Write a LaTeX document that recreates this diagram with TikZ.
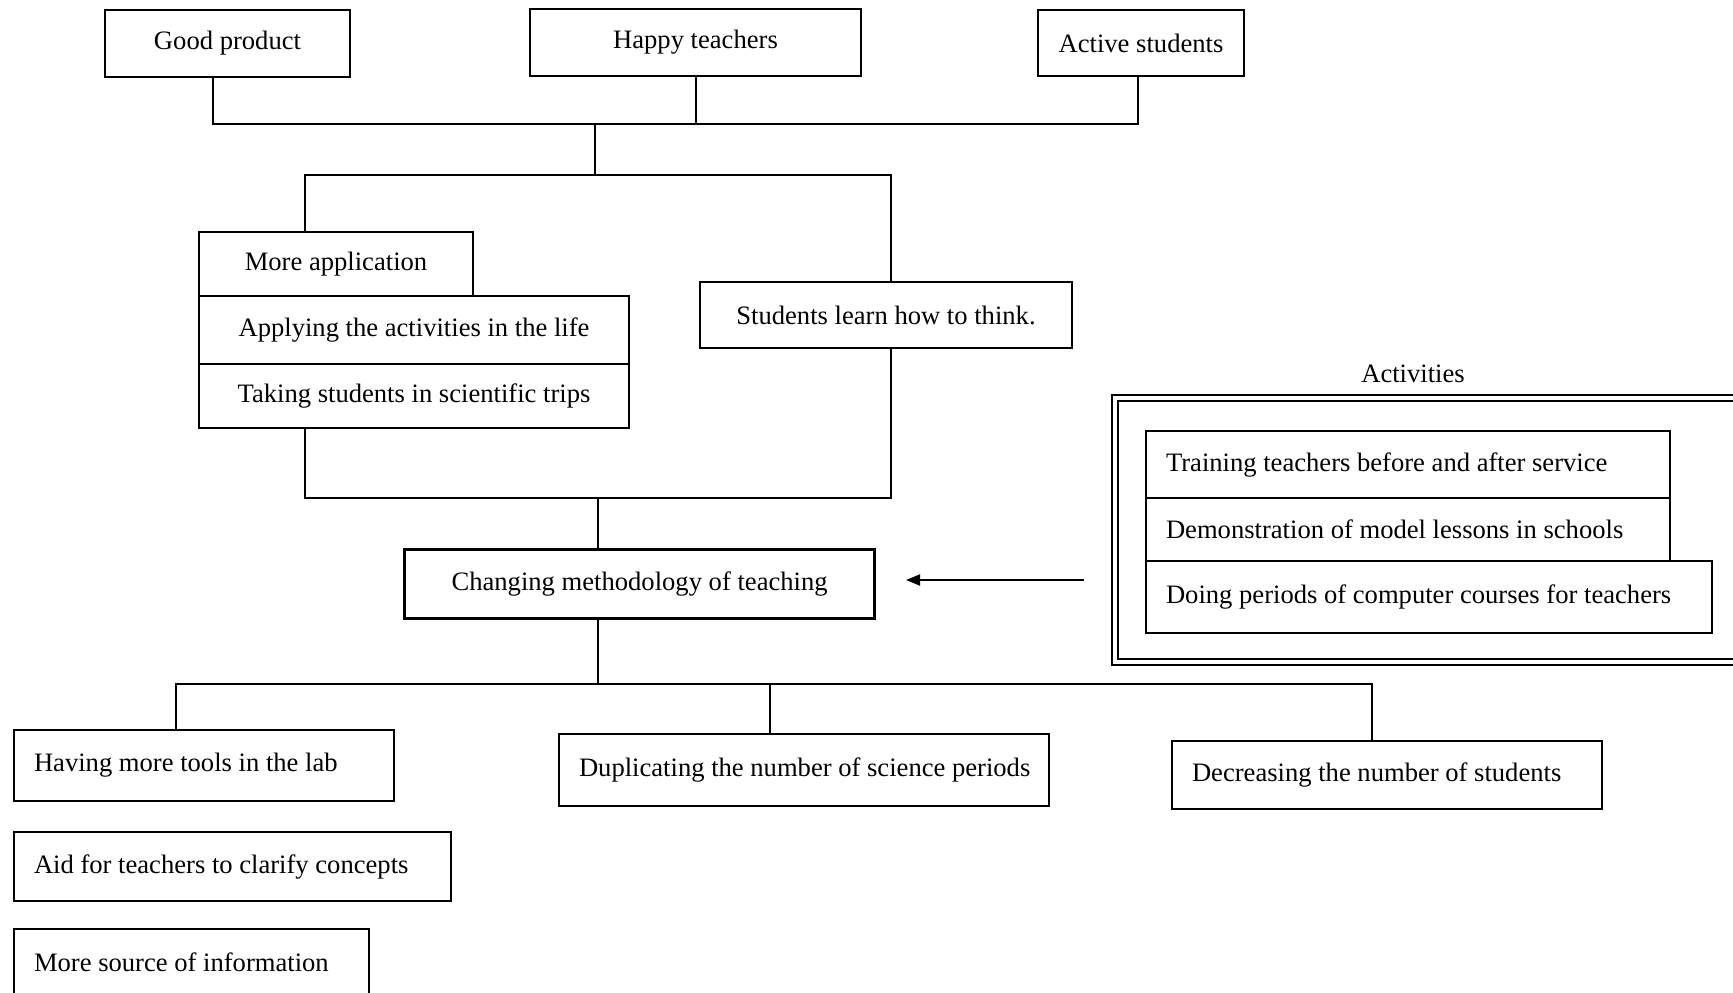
\documentclass[tikz,border=0pt]{standalone}
\usepackage{fontspec}
\setmainfont{Liberation Serif}
\usetikzlibrary{arrows.meta}
\begin{document}
\begin{tikzpicture}[x=0.5pt,y=-0.5pt,
  base/.style={draw, line width=1pt, fill=white, inner sep=0pt, anchor=north west,
    font=\fontsize{13.3}{16}\selectfont},
  cbox/.style={base, align=center},
  lbox/.style={base, inner xsep=10pt, text width=#1, align=flush left},
  frame/.style={draw, double, double distance=2.2pt, line width=0.9pt, anchor=north west, inner sep=0pt},
  conn/.style={line width=1pt},
  lbl/.style={font=\fontsize{13.3}{16}\selectfont}]
\useasboundingbox (0,0) rectangle (1733,992);
\clip (0,0) rectangle (1733,992);
\fill[white] (0,0) rectangle (1733,992);
% top row
\node[cbox, minimum width=122.5pt, minimum height=33.5pt] (good) at (104,9) {Good product};
\node[cbox, minimum width=165.5pt, minimum height=33.5pt] (happy) at (529,8) {Happy teachers};
\node[cbox, minimum width=103pt, minimum height=33pt] (active) at (1037,9) {Active students};
% middle
\node[cbox, minimum width=137pt, minimum height=32pt] (moreapp) at (198,231) {More application};
\node[cbox, minimum width=215pt, minimum height=34pt] (applying) at (198,295) {Applying the activities in the life};
\node[cbox, minimum width=215pt, minimum height=32pt] (taking) at (198,363) {Taking students in scientific trips};
\node[cbox, minimum width=186pt, minimum height=33pt] (think) at (699,281) {Students learn how to think.};
\node[cbox, line width=1.6pt, minimum width=235pt, minimum height=34.5pt] (change) at (403,548) {Changing methodology of teaching};
% activities
\node[lbl] (actlabel) at (1413,374) {Activities};
\node[frame, minimum width=330pt, minimum height=132pt] (actframe) at (1114,397) {};
\node[lbox=242pt, minimum height=33.5pt] (training) at (1145,430) {Training teachers before and after service};
\node[lbox=242pt, minimum height=31.5pt] (demo) at (1145,497) {Demonstration of model lessons in schools};
\node[lbox=263pt, minimum height=36pt] (doing) at (1145,560) {Doing periods of computer courses for teachers};
% bottom
\node[lbox=170pt, minimum height=35.5pt] (having) at (13,729) {Having more tools in the lab};
\node[lbox=225pt, minimum height=36pt] (dup) at (558,733) {\mbox{Duplicating the number of science periods}};
\node[lbox=195pt, minimum height=34pt] (dec) at (1171,740) {Decreasing the number of students};
\node[lbox=198.5pt, minimum height=34.5pt] (aid) at (13,831) {Aid for teachers to clarify concepts};
\node[lbox=157.5pt, minimum height=33pt] (source) at (13,928) {More source of information};
% connectors
\coordinate (b1) at (213,124);
\coordinate (b2) at (1138,124);
\coordinate (j1) at (595,124);
\coordinate (lt) at (305,175);
\coordinate (rt) at (891,175);
\coordinate (lb) at (305,498);
\coordinate (rb) at (891,498);
\coordinate (j2) at (598,498);
\coordinate (j3) at (598,684);
\coordinate (c1) at (176,684);
\coordinate (c2) at (1372,684);
\coordinate (c3) at (770,684);
\coordinate (arrS) at (1084,580);
\coordinate (arrE) at (906,580);
\draw[conn] (good.south -| b1) -- (b1) -- (b2) -- (active.south -| b2);
\draw[conn] (happy.south) -- (happy.south |- b1);
\draw[conn] (j1) -- (j1 |- lt);
\draw[conn] (moreapp.north -| lt) -- (lt) -- (rt) -- (think.north -| rt);
\draw[conn] (taking.south -| lb) -- (lb) -- (rb) -- (think.south -| rb);
\draw[conn] (j2) -- (change.north -| j2);
\draw[conn] (change.south -| j3) -- (j3);
\draw[conn] (having.north -| c1) -- (c1) -- (c2) -- (dec.north -| c2);
\draw[conn] (c3) -- (dup.north -| c3);
\draw[conn, -{Triangle[length=7pt,width=5.5pt]}] (arrS) -- (arrE);
\end{tikzpicture}
\end{document}
